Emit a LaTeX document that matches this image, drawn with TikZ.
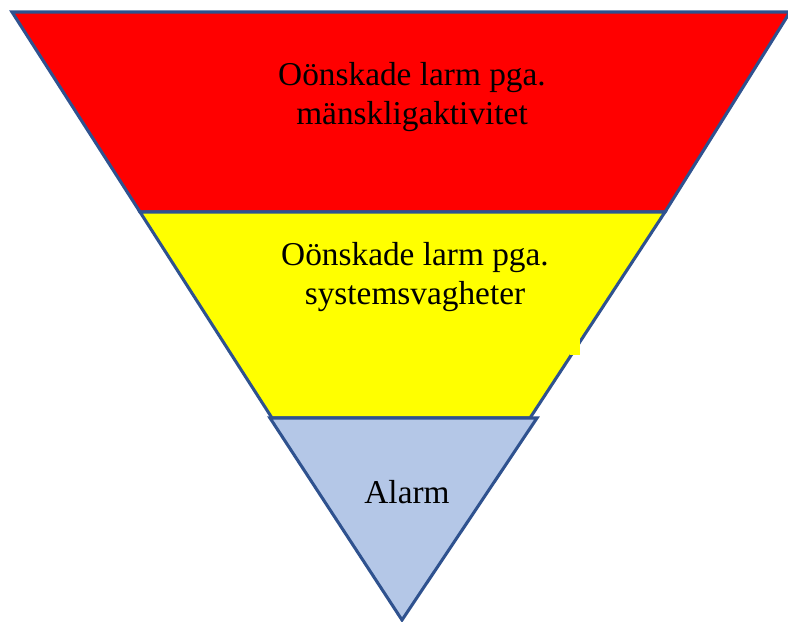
\documentclass[tikz,border=0pt]{standalone}
\usepackage{fontspec}
\setmainfont{Liberation Serif}
\definecolor{edge}{HTML}{2F528F}
\definecolor{lblue}{HTML}{B4C7E7}
\definecolor{yel}{HTML}{FFFF00}
\definecolor{rd}{HTML}{FF0000}
\begin{document}
\begin{tikzpicture}[x=0.75pt,y=-0.75pt,
  band/.style={draw=edge,line width=2.3pt,line join=miter},
  lbl/.style={font=\fontsize{25}{29}\selectfont,align=center,text=black}]
\useasboundingbox (0,0) rectangle (788,621);
\coordinate (rtl) at (12,12);
\coordinate (rtr) at (790,12);
\coordinate (rbl) at (140,212);
\coordinate (rbr) at (665,212);
\coordinate (ybl) at (272,418);
\coordinate (ybr) at (530,418);
\coordinate (btl) at (270,418);
\coordinate (btr) at (537,418);
\coordinate (apex) at (402,620);
\filldraw[band,fill=rd] (rtl) -- (rtr) -- (rbr) -- (rbl) -- cycle;
\filldraw[band,fill=yel] (rbl) -- (rbr) -- (ybr) -- (ybl) -- cycle;
\fill[yel] (570,337) rectangle (580,355);
\filldraw[band,fill=lblue] (btl) -- (btr) -- (apex) -- cycle;
\node[lbl] (red) at (412,97) {Oönskade larm pga.\\mänskligaktivitet};
\node[lbl] (yellow) at (415,277) {Oönskade larm pga.\\systemsvagheter};
\node[lbl] (alarm) at (407,492) {Alarm};
\end{tikzpicture}
\end{document}
